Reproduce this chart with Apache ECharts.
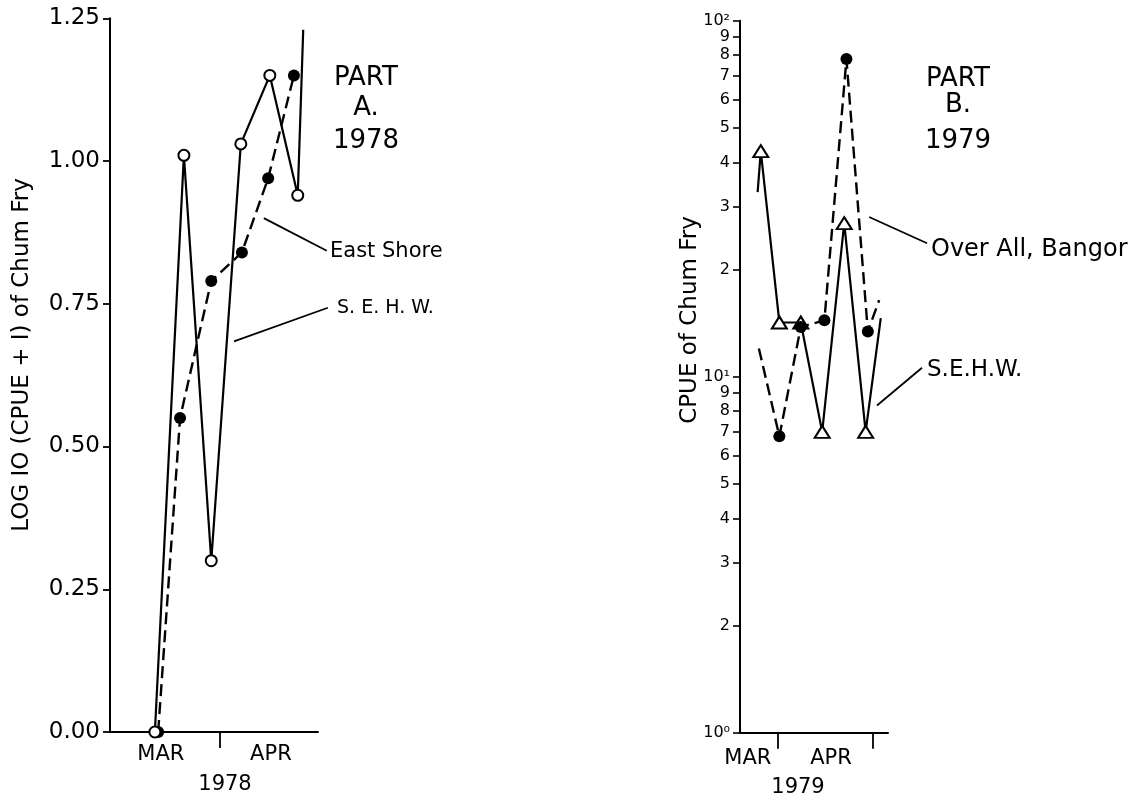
<!DOCTYPE html>
<html><head><meta charset="utf-8">
<script src="https://cdn.jsdelivr.net/npm/echarts@6/dist/echarts.min.js"></script>
<style>html,body{margin:0;padding:0;background:#fff}#c{width:1146px;height:803px}</style>
</head><body><div id="c"></div>
<script>
// ---------- Part A (1978): x = day of the plotted period, y = LOG10(CPUE+1) ----------
const aMonthNames = ['MAR', 'APR'];
const aMonthLabelPos = [9.3, 29.4];
const aMonthTicks = [20];
const aSehwX = [8.2, 13.5, 18.5, 23.9, 29.2, 34.3, 35.3];
const aSehwY = [0.00, 1.01, 0.30, 1.03, 1.15, 0.94, 1.23];
const aSehwNoMark = [6];
const aEastX = [8.8, 12.8, 18.5, 24.1, 28.9, 33.6];
const aEastY = [0.00, 0.55, 0.79, 0.84, 0.97, 1.15];
const aEastNoMark = [];
const aLeaders = [[[28.1, 0.900], [39.6, 0.843]], [[22.65, 0.684], [39.8, 0.743]]];

// ---------- Part B (1979): x = day of the plotted period, y = CPUE (log scale) ----------
const bMonthNames = ['MAR', 'APR'];
const bMonthLabelPos = [2.5, 28.9];
const bMonthTicks = [12, 42];
const bSehwX = [5.6, 6.6, 12.5, 19.3, 26.1, 33.1, 39.9, 44.7];
const bSehwY = [33, 43, 14.2, 14.2, 7.0, 27, 7.0, 14.6];
const bSehwNoMark = [0, 7];
const bOverX = [6.0, 12.5, 19.3, 26.8, 33.8, 40.6, 44.2];
const bOverY = [12.0, 6.8, 13.8, 14.4, 78, 13.4, 16.4];
const bOverNoMark = [0, 6];
const bYTicks = [1, 2, 3, 4, 5, 6, 7, 8, 9, 10, 20, 30, 40, 50, 60, 70, 80, 90, 100];
const bYTickLabels = ['10\u2070', '2', '3', '4', '5', '6', '7', '8', '9', '10\u00b9', '2', '3', '4', '5', '6', '7', '8', '9', '10\u00b2'];
const bLeaders = [[[41.0, 28.1], [59.4, 23.7]], [[43.5, 8.3], [57.8, 10.6]]];

const FONT = 'DejaVu Sans';
const K = '#000';

function pts(xs, ys, noMark) {
  return xs.map((x, i) => noMark.indexOf(i) >= 0 ? { value: [x, ys[i]], symbol: 'none' } : { value: [x, ys[i]] });
}
function xAxisDef(grid, max, ticks, labelPos, names, margin) {
  return {
    gridIndex: grid, type: 'value', min: 0, max: max,
    axisLine: { show: true, onZero: false, lineStyle: { color: K, width: 2 } },
    axisTick: { show: true, inside: false, length: 16, customValues: ticks, lineStyle: { color: K, width: 1.8 } },
    axisLabel: { show: true, customValues: labelPos, margin: margin, color: K, fontSize: 21, fontFamily: FONT,
      formatter: v => names[labelPos.indexOf(v)] || '' },
    splitLine: { show: false }
  };
}
const lineBase = { type: 'line', animation: false, clip: false };

const chart = echarts.init(document.getElementById('c'), null, { renderer: 'canvas' });
chart.setOption({
  backgroundColor: '#fff',
  animation: false,
  grid: [
    { left: 110, top: 18.3, width: 208, height: 713.7 },
    { left: 740, top: 20.7, width: 148, height: 712 }
  ],
  xAxis: [
    xAxisDef(0, 38, aMonthTicks, aMonthLabelPos, aMonthNames, 12),
    xAxisDef(1, 47, bMonthTicks, bMonthLabelPos, bMonthNames, 15)
  ],
  yAxis: [
    { gridIndex: 0, type: 'value', min: 0, max: 1.25, interval: 0.25,
      axisLine: { show: true, lineStyle: { color: K, width: 2 } },
      axisTick: { show: true, inside: false, length: 7, lineStyle: { color: K, width: 1.8 } },
      axisLabel: { color: K, fontSize: 23, fontFamily: FONT, margin: 10, formatter: v => v.toFixed(2) },
      splitLine: { show: false } },
    { gridIndex: 1, type: 'log', logBase: 10, min: 1, max: 100,
      axisLine: { show: true, lineStyle: { color: K, width: 2 } },
      axisTick: { show: true, inside: false, length: 7, customValues: bYTicks, lineStyle: { color: K, width: 1.6 } },
      axisLabel: { color: K, fontSize: 16, fontFamily: FONT, margin: 10, customValues: bYTicks,
        showMinLabel: true, showMaxLabel: true, hideOverlap: false,
        formatter: v => { const i = bYTicks.findIndex(t => Math.abs(t - v) < 1e-6 * t); return i >= 0 ? bYTickLabels[i] : ''; } },
      minorTick: { show: false }, splitLine: { show: false } }
  ],
  series: [
    Object.assign({}, lineBase, { name: 'East Shore', xAxisIndex: 0, yAxisIndex: 0, data: pts(aEastX, aEastY, aEastNoMark),
      symbol: 'circle', symbolSize: 12, itemStyle: { color: K },
      lineStyle: { color: K, width: 2.4, type: [12, 6] } }),
    Object.assign({}, lineBase, { name: 'S.E.H.W. 1978', xAxisIndex: 0, yAxisIndex: 0, data: pts(aSehwX, aSehwY, aSehwNoMark),
      symbol: 'circle', symbolSize: 11, itemStyle: { color: '#fff', borderColor: K, borderWidth: 2 },
      lineStyle: { color: K, width: 2.2 } }),
    Object.assign({}, lineBase, { name: 'S.E.H.W. 1979', xAxisIndex: 1, yAxisIndex: 1, data: pts(bSehwX, bSehwY, bSehwNoMark),
      symbol: 'triangle', symbolSize: [15, 12], itemStyle: { color: '#fff', borderColor: K, borderWidth: 2 },
      lineStyle: { color: K, width: 2.2 } }),
    Object.assign({}, lineBase, { name: 'Over All, Bangor', xAxisIndex: 1, yAxisIndex: 1, data: pts(bOverX, bOverY, bOverNoMark),
      symbol: 'circle', symbolSize: 12, itemStyle: { color: K },
      lineStyle: { color: K, width: 2.4, type: [12, 6] } })
  ]
});

function txt(s, x, y, size, align, rot) {
  return { type: 'text', x: x, y: y, rotation: rot || 0, silent: true,
    style: { text: s, fill: K, font: size + 'px "' + FONT + '"', textAlign: align || 'center', textVerticalAlign: 'middle' } };
}
const g = [
  txt('LOG IO (CPUE + I) of Chum Fry', 22, 355, 23, 'center', Math.PI / 2),
  txt('1978', 225, 785, 21),
  txt('PART', 366, 78, 26), txt('A.', 366, 108, 26), txt('1978', 366, 141, 26),
  txt('East Shore', 330, 252, 21, 'left'),
  txt('S. E. H. W.', 337, 308, 19, 'left'),
  txt('CPUE of Chum Fry', 690, 320, 23, 'center', Math.PI / 2),
  txt('1979', 798, 788, 21),
  txt('PART', 958, 79, 26), txt('B.', 958, 105, 26), txt('1979', 958, 141, 26),
  txt('Over All, Bangor', 931, 250, 24, 'left'),
  txt('S.E.H.W.', 927, 370, 23, 'left')
];
function leader(gridIndex, seg) {
  const p = chart.convertToPixel({ gridIndex: gridIndex }, seg[0]);
  const q = chart.convertToPixel({ gridIndex: gridIndex }, seg[1]);
  return { type: 'line', silent: true, shape: { x1: p[0], y1: p[1], x2: q[0], y2: q[1] }, style: { stroke: K, lineWidth: 1.8 } };
}
aLeaders.forEach(s => g.push(leader(0, s)));
bLeaders.forEach(s => g.push(leader(1, s)));
chart.setOption({ graphic: g });
</script>
</body></html>
